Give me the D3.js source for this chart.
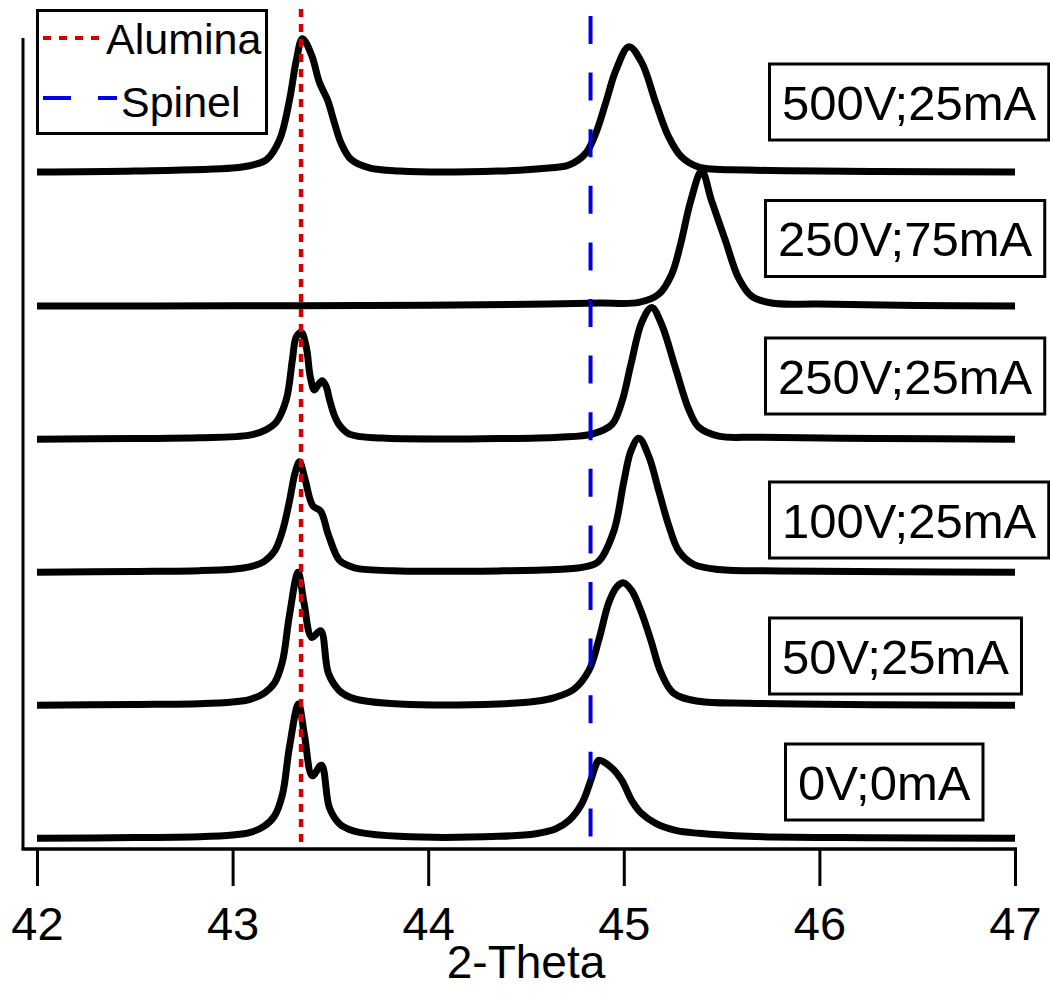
<!DOCTYPE html>
<html>
<head>
<meta charset="utf-8">
<script src="https://cdn.jsdelivr.net/npm/d3@7"></script>
<style>
  html, body { margin: 0; padding: 0; background: #fff; }
  svg { display: block; font-family: "Liberation Sans", Arial, sans-serif; }
</style>
</head>
<body>
<svg id="chart" width="1050" height="993"></svg>
<script>
// XRD patterns (2-Theta, intensity in a.u.), one stacked trace per treatment
const samples = ["0V;0mA", "50V;25mA", "100V;25mA", "250V;25mA", "250V;75mA", "500V;25mA"];
const stackOffsets = [0, 100, 200, 300, 400, 500];
const xTicks = [42, 43, 44, 45, 46, 47];
const refLines = [
  { name: "Alumina", pos: 43.35 },
  { name: "Spinel", pos: 44.83 }
];

const trace0V = [
  [42.00, 0], [42.50, 0.6], [42.83, 1.2], [43.00, 2.5], [43.09, 4.5], [43.16, 9], [43.215, 17],
  [43.255, 33], [43.29, 68], [43.337, 101], [43.367, 78], [43.408, 47], [43.454, 55], [43.495, 23],
  [43.546, 11], [43.60, 6.5], [43.648, 4.5], [43.852, 1.5], [44.36, 1.5], [44.55, 3.5], [44.65, 7],
  [44.72, 13.5], [44.785, 26], [44.832, 44], [44.857, 55], [44.872, 58.6], [44.938, 53], [44.99, 43.6],
  [45.04, 28.6], [45.09, 18.8], [45.163, 11.3], [45.265, 6], [45.383, 3.8], [45.638, 1.5],
  [46.30, 0.5], [47.00, 0]
];
const trace50V = [
  [42.00, 0], [42.50, 0.6], [42.83, 1.2], [43.00, 2.5], [43.09, 4.5], [43.16, 9], [43.215, 17],
  [43.255, 33], [43.29, 67], [43.335, 100], [43.365, 77], [43.405, 51], [43.45, 56], [43.49, 24],
  [43.546, 11], [43.60, 6], [43.648, 4], [43.852, 1], [44.36, 1], [44.55, 3], [44.65, 6],
  [44.745, 12], [44.821, 26], [44.872, 49], [44.923, 77], [44.964, 89], [45.00, 92], [45.041, 86],
  [45.087, 71], [45.138, 49], [45.189, 25], [45.255, 9], [45.383, 3], [45.638, 1.5],
  [46.30, 0.5], [47.00, 0]
];
const trace100V = [
  [42.00, 0], [42.50, 0.6], [42.83, 1.2], [43.00, 2.3], [43.087, 4], [43.16, 8], [43.215, 16],
  [43.255, 31], [43.29, 53], [43.32, 75], [43.342, 83], [43.37, 70], [43.41, 50], [43.45, 46],
  [43.49, 28], [43.546, 9], [43.60, 4.5], [43.648, 2.5], [43.852, 1], [44.36, 1], [44.65, 2],
  [44.80, 4], [44.87, 8], [44.949, 31], [45.00, 68], [45.036, 91], [45.077, 100.7], [45.128, 87],
  [45.179, 61], [45.23, 35], [45.281, 16], [45.357, 6], [45.485, 2], [45.80, 1],
  [46.40, 0.4], [47.00, 0]
];
const trace250V25 = [
  [42.00, 0], [42.50, 0.5], [42.83, 1.0], [43.087, 3], [43.17, 7], [43.224, 13], [43.275, 30],
  [43.306, 60], [43.326, 77], [43.352, 80], [43.377, 69], [43.397, 47], [43.418, 37],
  [43.438, 41], [43.459, 44], [43.48, 39], [43.495, 30], [43.52, 18], [43.546, 10.5],
  [43.597, 3.8], [43.765, 0.8], [44.36, 0.5], [44.668, 1.5], [44.837, 3.8], [44.939, 11],
  [44.99, 28], [45.036, 56], [45.092, 88], [45.143, 99], [45.194, 86], [45.265, 53],
  [45.332, 22.5], [45.383, 9], [45.485, 2.3], [45.689, 1.5], [46.30, 0.5], [47.00, 0]
];
const trace250V75 = [
  [42.00, 0], [43.00, 0.3], [44.00, 0.6], [44.617, 1.5], [44.872, 2.3], [45.077, 2.8],
  [45.179, 9], [45.245, 24], [45.291, 47], [45.342, 79], [45.398, 101.5], [45.449, 79],
  [45.52, 49], [45.587, 21], [45.653, 7.5], [45.755, 2.3], [45.995, 1.5], [46.50, 0.5],
  [47.00, 0]
];
const trace500V = [
  [42.00, 0.75], [42.50, 1.5], [43.00, 3.8], [43.10, 6], [43.173, 10], [43.24, 25], [43.291, 55],
  [43.326, 85], [43.357, 101], [43.403, 89], [43.444, 68], [43.485, 55], [43.52, 38],
  [43.556, 22], [43.607, 10], [43.699, 3.8], [43.852, 1.5], [44.36, 1.5], [44.617, 3.8],
  [44.719, 6], [44.806, 15], [44.857, 30], [44.908, 53], [44.959, 77], [45.026, 95],
  [45.092, 83], [45.163, 53], [45.23, 27], [45.296, 12], [45.383, 4.5], [45.638, 2.3],
  [46.30, 1.2], [47.00, 0.75]
];
const traces = [trace0V, trace50V, trace100V, trace250V25, trace250V75, trace500V];

// label box placement (px): left edge and vertical centre of each box
const labelLayout = [
  { left: 784, cy: 782 },
  { left: 768, cy: 656 },
  { left: 768, cy: 520 },
  { left: 764, cy: 376 },
  { left: 764, cy: 238.5 },
  { left: 768, cy: 102 }
];

const svg = d3.select("#chart");

const plotTop = 36, plotBottom = 849;
const x = d3.scaleLinear().domain([42, 47]).range([37, 1015]);
const y = d3.scaleLinear().domain([-8, 603]).range([plotBottom, plotTop]);

// stacked traces
const line = d3.line()
  .x(d => x(d[0]))
  .y(d => y(d[1]))
  .curve(d3.curveCatmullRom.alpha(0.5));

svg.append("g")
  .selectAll("path")
  .data(traces)
  .join("path")
  .attr("d", (t, i) => line(t.map(p => [p[0], p[1] + stackOffsets[i]])))
  .attr("fill", "none")
  .attr("stroke", "#000")
  .attr("stroke-width", 7)
  .attr("stroke-linejoin", "round");

// axes
svg.append("line")
  .attr("x1", 23).attr("x2", 23)
  .attr("y1", 38).attr("y2", plotBottom)
  .attr("stroke", "#000").attr("stroke-width", 3);

svg.append("line")
  .attr("x1", 21.5).attr("x2", 1017)
  .attr("y1", plotBottom).attr("y2", plotBottom)
  .attr("stroke", "#000").attr("stroke-width", 3.5);

const xAxis = d3.axisBottom(x)
  .tickValues(xTicks)
  .tickFormat(d3.format("d"))
  .tickSize(37)
  .tickSizeOuter(0)
  .tickPadding(21);

const gx = svg.append("g")
  .attr("transform", `translate(0,${plotBottom})`)
  .call(xAxis);
gx.select(".domain").remove();
gx.selectAll(".tick line").attr("stroke", "#000").attr("stroke-width", 3);
gx.selectAll(".tick text")
  .attr("fill", "#000")
  .style("font-size", "47px")
  .style("font-family", "'Liberation Sans', Arial, sans-serif");

svg.append("text")
  .attr("x", (x(42) + x(47)) / 2)
  .attr("y", 978)
  .attr("text-anchor", "middle")
  .style("font-size", "46px")
  .text("2-Theta");

// reference phase positions
const refStyle = {
  Alumina: { color: "#d40000", dash: "8,7", top: 9, width: 4.5 },
  Spinel: { color: "#0000e0", dash: "28,28.6", top: 16, width: 4 }
};
svg.append("g")
  .selectAll("line")
  .data(refLines)
  .join("line")
  .attr("x1", d => x(d.pos)).attr("x2", d => x(d.pos))
  .attr("y1", d => refStyle[d.name].top).attr("y2", plotBottom - 1)
  .attr("stroke", d => refStyle[d.name].color)
  .attr("stroke-width", d => refStyle[d.name].width)
  .attr("stroke-dasharray", d => refStyle[d.name].dash);

// legend
const legend = svg.append("g");
legend.append("rect")
  .attr("x", 37.5).attr("y", 10.5)
  .attr("width", 229).attr("height", 123)
  .attr("fill", "#fff").attr("stroke", "#000").attr("stroke-width", 3);
const legendRows = [
  { name: "Alumina", ly: 38, x2: 102, tx: 106, ty: 54 },
  { name: "Spinel", ly: 98, x2: 117, tx: 121, ty: 117 }
];
legend.selectAll("line")
  .data(legendRows)
  .join("line")
  .attr("x1", 43).attr("x2", d => d.x2)
  .attr("y1", d => d.ly).attr("y2", d => d.ly)
  .attr("stroke", d => refStyle[d.name].color)
  .attr("stroke-width", 4)
  .attr("stroke-dasharray", d => d.name === "Alumina" ? "8,8" : "28,27");
legend.selectAll("text")
  .data(legendRows)
  .join("text")
  .attr("x", d => d.tx).attr("y", d => d.ty)
  .style("font-size", "43px")
  .text(d => d.name);

// sample label boxes
const labels = svg.append("g")
  .selectAll("g")
  .data(samples)
  .join("g");
labels.each(function (name, i) {
  const g = d3.select(this);
  const L = labelLayout[i];
  const t = g.append("text")
    .attr("x", L.left + 14)
    .attr("y", L.cy)
    .attr("dy", "0.36em")
    .style("font-size", "49px")
    .text(name);
  const w = t.node().getComputedTextLength();
  g.insert("rect", "text")
    .attr("x", L.left + 1.5)
    .attr("y", L.cy - 38)
    .attr("width", w + 25)
    .attr("height", 76)
    .attr("fill", "#fff")
    .attr("stroke", "#000")
    .attr("stroke-width", 3);
});
</script>
</body>
</html>
